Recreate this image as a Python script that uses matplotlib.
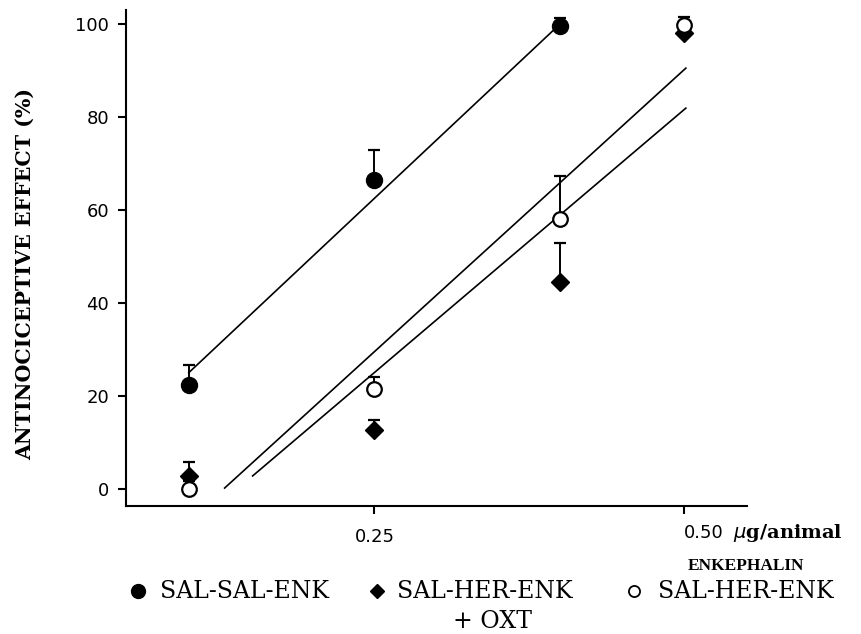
import numpy as np
import matplotlib.pyplot as plt

# doses (ug/animal enkephalin)
dose = [0.1, 0.25, 0.4, 0.5]

# SAL-SAL-ENK (filled circles)
sal_x = [0.1, 0.25, 0.4]
sal_y = [22.3, 66.5, 99.6]
sal_err = [4.3, 6.4, 1.6]

# SAL-HER-ENK (filled diamonds)
her_y = [2.8, 12.6, 44.5, 98.0]
her_err = [3.0, 2.2, 8.4, 0.0]

# SAL-HER-ENK + OXT (open circles)
oxt_y = [0.0, 21.5, 58.0, 99.8]
oxt_err = [1.8, 2.6, 9.2, 1.6]

# fitted regression lines (end points)
fit_sal = ([0.1, 0.4], [25.0, 100.0])
fit_oxt = ([0.129, 0.5016], [0.2, 90.5])
fit_her = ([0.1516, 0.5016], [2.8, 81.9])

fig = plt.figure(figsize=(8.61, 6.34), dpi=100)
ax = fig.add_axes([0.1463, 0.2019, 0.7213, 0.7823])

lw = 1.2
ax.plot(*fit_sal, color='black', lw=lw)
ax.plot(*fit_oxt, color='black', lw=lw)
ax.plot(*fit_her, color='black', lw=lw)

ekw = dict(ecolor='black', elinewidth=1.4, capsize=4, capthick=1.6, ls='none')
ax.errorbar(dose, her_y, yerr=[np.zeros(4), her_err], fmt='D', ms=9.5,
            mfc='black', mec='black', **ekw)
ax.errorbar(dose, oxt_y, yerr=[np.zeros(4), oxt_err], fmt='o', ms=10.5,
            mfc='white', mec='black', mew=1.6, **ekw)
ax.errorbar(sal_x, sal_y, yerr=[np.zeros(3), sal_err], fmt='o', ms=11.5,
            mfc='black', mec='black', **ekw)

ax.set_xlim(0.0493, 0.551)
ax.set_ylim(-3.66, 103.0)
ax.set_yticks([0, 20, 40, 60, 80, 100])
ax.set_xticks([0.25, 0.5])
ax.set_xticklabels(['0.25', ''])
for s in ['top', 'right']:
    ax.spines[s].set_visible(False)
for s in ['left', 'bottom']:
    ax.spines[s].set_linewidth(1.5)
ax.tick_params(direction='out', length=6, width=1.5, labelsize=13)
ax.tick_params(axis='x', pad=10)
ax.tick_params(axis='y', pad=6)

ax.text(0.5, -0.055, '0.50', transform=ax.get_xaxis_transform(),
        ha='left', va='center', fontsize=13)
ax.text(0.54, -0.055, r'$\mu$g/animal', transform=ax.get_xaxis_transform(),
        ha='left', va='center', fontsize=14, family='DejaVu Serif', weight='bold')
fig.text(688 / 861, 1 - 566 / 634, 'ENKEPHALIN', ha='left', va='center',
         fontsize=12.5, family='Liberation Serif', weight='bold')

fig.text(25 / 861, 1 - 274 / 634, 'ANTINOCICEPTIVE EFFECT (%)', rotation=90,
         ha='center', va='center', fontsize=14.8, family='DejaVu Serif', weight='bold')

# legend drawn as text under the axis
ly = 1 - 591 / 634
lf = dict(fontsize=17, family='DejaVu Serif', ha='left', va='center')
fig.lines.append(plt.Line2D([138 / 861], [ly], marker='o', ms=10, color='black',
                            transform=fig.transFigure))
fig.text(160 / 861, ly, 'SAL-SAL-ENK', **lf)
fig.lines.append(plt.Line2D([377 / 861], [ly], marker='D', ms=7, color='black',
                            transform=fig.transFigure))
fig.text(397 / 861, ly, 'SAL-HER-ENK', **lf)
fig.lines.append(plt.Line2D([634 / 861], [ly], marker='o', ms=8, mfc='white',
                            mec='black', mew=1.3, transform=fig.transFigure))
fig.text(658 / 861, ly, 'SAL-HER-ENK', **lf)
fig.text(493 / 861, 1 - 622 / 634, '+ OXT', fontsize=17, family='DejaVu Serif',
         ha='center', va='center')

fig.savefig('out.png', dpi=100)
